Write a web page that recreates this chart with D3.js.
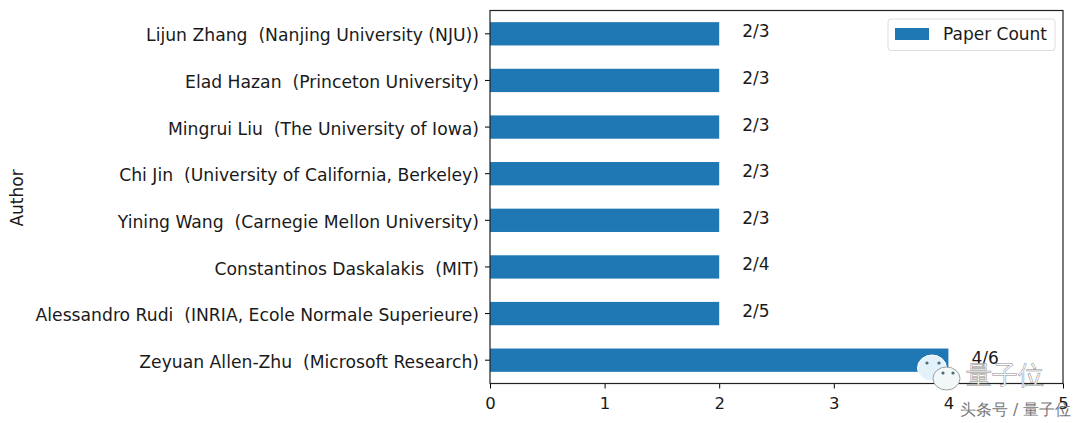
<!DOCTYPE html>
<html lang="en">
<head>
<meta charset="utf-8">
<title>Paper Count by Author</title>
<script src="https://d3js.org/d3.v7.min.js"></script>
<style>
body { margin: 0; background: #fff; }
text { font-family: "DejaVu Sans", sans-serif; fill: #1a1a1a; white-space: pre; }
</style>
</head>
<body>
<script>
var authors = [
	"Lijun Zhang  (Nanjing University (NJU))",
	"Elad Hazan  (Princeton University)",
	"Mingrui Liu  (The University of Iowa)",
	"Chi Jin  (University of California, Berkeley)",
	"Yining Wang  (Carnegie Mellon University)",
	"Constantinos Daskalakis  (MIT)",
	"Alessandro Rudi  (INRIA, Ecole Normale Superieure)",
	"Zeyuan Allen-Zhu  (Microsoft Research)"
];
var paperCounts = [2, 2, 2, 2, 2, 2, 2, 4];
var ratios = ["2/3", "2/3", "2/3", "2/3", "2/3", "2/4", "2/5", "4/6"];
var xTicks = [0, 1, 2, 3, 4, 5];

var w = 1080, h = 423;
var plotLeft = 490, plotRight = 1063, plotTop = 10.5, plotBottom = 383.5;

var svg = d3.select("body").append("svg")
	.attr("width", w)
	.attr("height", h)
	.style("display", "block");

var x = d3.scaleLinear().domain([0, 5]).range([plotLeft, plotRight]);
var y = d3.scaleBand().domain(authors).range([plotTop, plotBottom]).paddingInner(0.5).paddingOuter(0.25);

// bars
svg.selectAll("rect.bar")
	.data(authors)
	.enter()
	.append("rect")
	.attr("class", "bar")
	.attr("x", x(0))
	.attr("y", function(d) { return y(d); })
	.attr("width", function(d, i) { return x(paperCounts[i]) - x(0); })
	.attr("height", y.bandwidth())
	.attr("fill", "#1f77b4");

// ratio labels
svg.selectAll("text.ratio")
	.data(authors)
	.enter()
	.append("text")
	.attr("class", "ratio")
	.attr("x", function(d, i) { return x(paperCounts[i]) + 23; })
	.attr("y", function(d) { return y(d) + y.bandwidth() / 2 - 2.5; })
	.attr("dy", "0.35em")
	.attr("font-size", 17)
	.text(function(d, i) { return ratios[i]; });

// axes
var xAxis = d3.axisBottom(x).tickValues(xTicks).tickFormat(d3.format("d")).tickSize(5).tickPadding(9);
var yAxis = d3.axisLeft(y).tickSize(5).tickPadding(6);

var gx = svg.append("g").attr("transform", "translate(0," + plotBottom + ")").call(xAxis);
var gy = svg.append("g").attr("transform", "translate(" + plotLeft + ",0)").call(yAxis);
gx.selectAll("text").attr("font-size", 16.5);
gy.selectAll("text").attr("font-size", 17.2).attr("dy", "0.44em");
gx.select(".domain").remove();
gy.select(".domain").remove();

svg.append("rect")
	.attr("x", plotLeft).attr("y", plotTop)
	.attr("width", plotRight - plotLeft).attr("height", plotBottom - plotTop)
	.attr("fill", "none").attr("stroke", "#222").attr("stroke-width", 1.2);

svg.append("text")
	.attr("transform", "translate(23,198) rotate(-90)")
	.attr("text-anchor", "middle")
	.attr("font-size", 17)
	.text("Author");

// legend
var lg = svg.append("g");
lg.append("rect")
	.attr("x", 888).attr("y", 19).attr("width", 167).attr("height", 31.5).attr("rx", 3)
	.attr("fill", "#fff").attr("stroke", "#ddd");
lg.append("rect")
	.attr("x", 895).attr("y", 28).attr("width", 34).attr("height", 12)
	.attr("fill", "#1f77b4");
lg.append("text")
	.attr("x", 943).attr("y", 40)
	.attr("font-size", 17)
	.text("Paper Count");

// watermark
var wm = svg.append("g");
wm.append("ellipse")
	.attr("cx", 932).attr("cy", 368).attr("rx", 14.5).attr("ry", 13)
	.attr("fill", "#e3f1fb").attr("stroke", "#fff").attr("stroke-width", 1);
wm.append("ellipse")
	.attr("cx", 946.5).attr("cy", 378.5).attr("rx", 13.5).attr("ry", 11.5)
	.attr("fill", "#f2f7f7").attr("stroke", "#8a8a8a").attr("stroke-width", 0.8);
[[927, 363], [939, 363], [943, 373], [953, 373]].forEach(function(p) {
	wm.append("circle").attr("cx", p[0]).attr("cy", p[1]).attr("r", 1.6).attr("fill", "#4a6b7c");
});
wm.append("text")
	.attr("x", 966).attr("y", 384)
	.attr("font-family", "Noto Sans CJK SC")
	.attr("font-size", 26)
	.style("fill", "#fff").attr("stroke", "#888").attr("stroke-width", 0.5)
	.text("量子位");
wm.append("text")
	.attr("x", 960).attr("y", 415)
	.attr("font-family", "Noto Sans CJK SC")
	.attr("font-size", 15.5)
	.style("fill", "#777")
	.text("头条号 / 量子位");
</script>
</body>
</html>
